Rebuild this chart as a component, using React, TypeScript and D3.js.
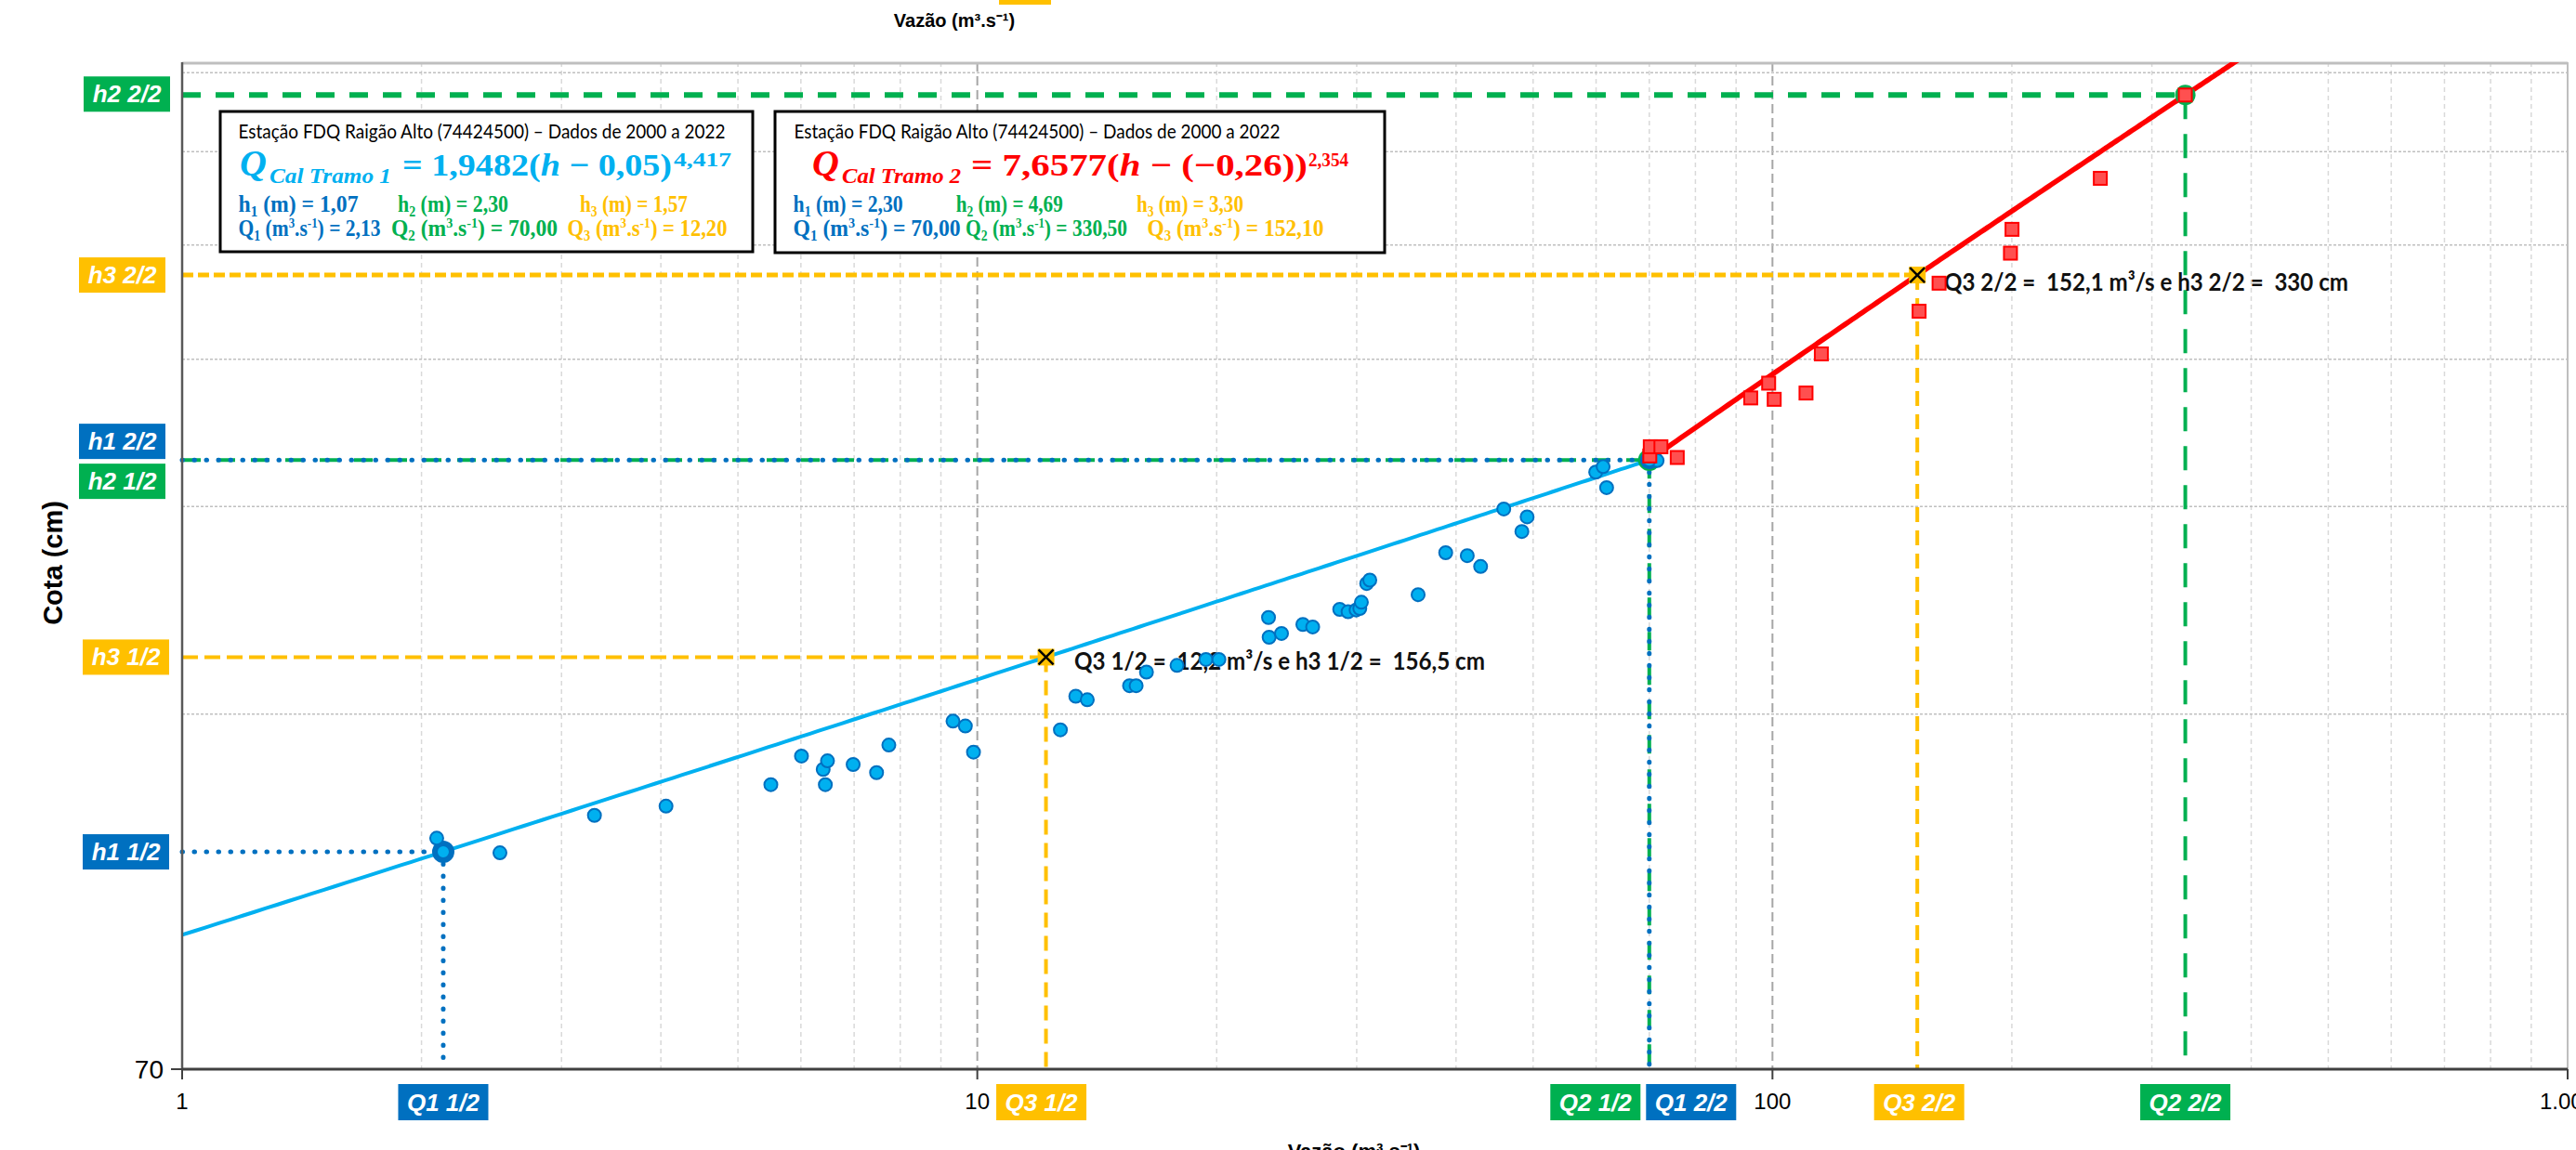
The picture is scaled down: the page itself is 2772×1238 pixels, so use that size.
import React from 'react';
import * as d3 from 'd3';

const W = 2772;
const H = 1238;

// Observed gaugings - Tramo 1 (blue circles): discharge (m3/s) and stage (cm)
const blueQ = [2.09, 2.13, 2.51, 3.30, 4.06, 5.50, 6.01, 6.40, 6.48, 6.44, 6.98, 7.47, 7.74, 9.32, 9.66, 9.89, 12.72, 13.30, 13.75, 15.54, 15.84, 16.32, 17.83, 19.39, 20.13, 23.28, 24.13, 23.24, 25.67, 26.41, 28.56, 29.26, 29.95, 30.27, 30.41, 30.88, 31.16, 35.84, 38.82, 41.32, 42.95, 45.93, 49.14, 48.40, 59.94, 61.24, 61.86, 71.6, 70.0];
const blueH = [109.9, 107.0, 106.8, 114.9, 117.0, 122.0, 129.0, 125.7, 127.8, 122.0, 126.9, 124.9, 131.8, 138.1, 136.8, 130.0, 135.8, 145.0, 144.0, 148.0, 148.0, 152.0, 154.0, 155.8, 155.8, 162.7, 163.9, 169.1, 166.8, 166.0, 171.8, 171.0, 171.6, 172.1, 174.2, 180.7, 181.9, 176.8, 191.9, 190.8, 186.8, 209.0, 205.8, 200.0, 224.6, 227.0, 217.9, 229.7, 230.0];

// Observed gaugings - Tramo 2 (red squares)
const redQ = [70.1, 70.2, 72.4, 75.9, 93.9, 98.9, 100.5, 110.2, 115.2, 152.9, 162.0, 199.2, 200.1, 258.4, 330.5];
const redH = [231.8, 236.0, 236.0, 231.1, 259.6, 267.2, 258.9, 262.1, 282.9, 307.5, 324.8, 344.4, 360.8, 398.6, 469.0];

// Axes
const xTicks = [1, 10, 100, 1000];
const xTickLabels = ['1', '10', '100', '1.000'];
const yTicks = [70];
const yGridValues = [140, 210, 280, 350, 420, 490];

// Rating curve coefficients: Q = a (h - h0)^n, h in m
const tramo1 = { a: 1.9482, h0: 0.05, n: 4.417 };
const tramo2 = { a: 7.6577, h0: -0.26, n: 2.354 };

// Reference points (cm / m3.s-1)
const t1H = [107, 230, 156.5];
const t1Q = [2.13, 70.0, 12.2];
const t2H = [230, 469, 330];
const t2Q = [70.0, 330.5, 152.1];

const BLUE = '#0070C0';
const GREEN = '#00B050';
const YELLOW = '#FFC000';
const LBLUE = '#00B0F0';
const RED = '#FF0000';

const L = 196, R = 2763, T = 67, B = 1151;

export default function App() {
  const x = d3.scaleLog().domain([1, 1000]).range([L, R]);
  const y = d3.scaleLog().domain([70, 500]).range([B, T]);

  const curve = (c: { a: number; h0: number; n: number }, h1: number, h2: number) => {
    const N = 200;
    const pts = d3.range(N + 1).map((i) => {
      const h = h1 + ((h2 - h1) * i) / N;
      const q = c.a * Math.pow(h - c.h0, c.n);
      return [x(q), y(h * 100)] as [number, number];
    });
    return d3.line()(pts) || '';
  };
  const hStart1 = tramo1.h0 + Math.pow(1 / tramo1.a, 1 / tramo1.n);
  const path1 = curve(tramo1, hStart1, 2.30);
  const path2 = curve(tramo2, 2.30, 5.2);

  const minorX: number[] = [];
  [1, 10, 100].forEach((d) => {
    for (let k = 2; k <= 9; k++) minorX.push(k * d);
  });

  const sans = 'Liberation Sans, Arial, sans-serif';
  const serif = 'Liberation Serif, Times New Roman, serif';
  const calibri = 'Lato, Open Sans, sans-serif';

  const hLine = (h: number, q: number, stroke: string, w: number, dash: string, cap: 'round' | 'butt' = 'butt') => (
    <line x1={L} x2={x(q)} y1={y(h)} y2={y(h)} stroke={stroke} strokeWidth={w} strokeDasharray={dash} strokeLinecap={cap} />
  );
  const vLine = (h: number, q: number, stroke: string, w: number, dash: string, cap: 'round' | 'butt' = 'butt') => (
    <line x1={x(q)} x2={x(q)} y1={y(h)} y2={B} stroke={stroke} strokeWidth={w} strokeDasharray={dash} strokeLinecap={cap} />
  );

  const leftLabels = [
    { t: 'h2 2/2', c: GREEN, cy: y(t2H[1]) - 1, x0: 90 },
    { t: 'h3 2/2', c: YELLOW, cy: y(t2H[2]), x0: 85 },
    { t: 'h1 2/2', c: BLUE, cy: y(t2H[0]) - 20, x0: 85 },
    { t: 'h2 1/2', c: GREEN, cy: y(t1H[1]) + 23, x0: 85 },
    { t: 'h3 1/2', c: YELLOW, cy: y(t1H[2]), x0: 89 },
    { t: 'h1 1/2', c: BLUE, cy: y(t1H[0]), x0: 89 },
  ];
  const bottomLabels = [
    { t: 'Q1 1/2', c: BLUE, cx: x(t1Q[0]) },
    { t: 'Q3 1/2', c: YELLOW, cx: x(t1Q[2]) - 5 },
    { t: 'Q2 1/2', c: GREEN, cx: x(t1Q[1]) - 58 },
    { t: 'Q1 2/2', c: BLUE, cx: x(t2Q[0]) + 45 },
    { t: 'Q3 2/2', c: YELLOW, cx: x(t2Q[2]) + 2 },
    { t: 'Q2 2/2', c: GREEN, cx: x(t2Q[1]) },
  ];

  const xMark = (q: number, h: number) => {
    const cx = x(q), cy = y(h), s = 8;
    return (
      <g>
        <rect x={cx - 9} y={cy - 9} width={18} height={18} fill={YELLOW} />
        <line x1={cx - s} y1={cy - s} x2={cx + s} y2={cy + s} stroke="#000" strokeWidth={2.5} />
        <line x1={cx - s} y1={cy + s} x2={cx + s} y2={cy - s} stroke="#000" strokeWidth={2.5} />
      </g>
    );
  };

  const rowText = (
    xx: number, yy: number, len: number, color: string, sym: string, sub: string, unit: 'h' | 'q', val: string
  ) => (
    <text x={xx} y={yy} fontFamily={serif} fontWeight="bold" fontSize={25} fill={color} textLength={len} lengthAdjust="spacingAndGlyphs">
      {sym}
      <tspan fontSize={16} dy={5}>{sub}</tspan>
      {unit === 'h' ? (
        <tspan dy={-5}>{` (m) = ${val}`}</tspan>
      ) : (
        <>
          <tspan dy={-5}>{' (m'}</tspan>
          <tspan fontSize={15} dy={-9}>3</tspan>
          <tspan dy={9}>.s</tspan>
          <tspan fontSize={15} dy={-9}>-1</tspan>
          <tspan dy={9}>{`) = ${val}`}</tspan>
        </>
      )}
    </text>
  );

  return (
    <svg width={W} height={H} style={{ position: 'absolute', left: 0, top: 0, background: '#fff' }}>
      <defs>
        <clipPath id="plot">
          <rect x={L} y={T} width={R - L} height={B - T} />
        </clipPath>
      </defs>
      <rect x={0} y={0} width={W} height={H} fill="#fff" />
      {/* cut label from above */}
      <rect x={1075} y={0} width={56} height={5} fill={YELLOW} />
      <text x={1027} y={29} textAnchor="middle" fontFamily={sans} fontWeight="bold" fontSize={20} fill="#000">
        Vazão (m³.s⁻¹)
      </text>

      {/* grid */}
      {minorX.map((v) => (
        <line key={'mx' + v} x1={x(v)} x2={x(v)} y1={T} y2={B} stroke="#D9D9D9" strokeWidth={1.5} strokeDasharray="5 4" />
      ))}
      {[10, 100].map((v) => (
        <line key={'Mx' + v} x1={x(v)} x2={x(v)} y1={T} y2={B} stroke="#A6A6A6" strokeWidth={2} strokeDasharray="10 5" />
      ))}
      {yGridValues.map((v) => (
        <line key={'gy' + v} x1={L} x2={R} y1={y(v)} y2={y(v)} stroke="#BFBFBF" strokeWidth={1.5} strokeDasharray="3 2" />
      ))}
      <line x1={L} x2={R} y1={T + 1} y2={T + 1} stroke="#BFBFBF" strokeWidth={3} />
      <line x1={R} x2={R} y1={T} y2={B} stroke="#BFBFBF" strokeWidth={2} />

      {/* info boxes */}
      <rect x={237} y={120} width={573} height={151} fill="#fff" stroke="#000" strokeWidth={3} />
      <rect x={834} y={120} width={656} height={152} fill="#fff" stroke="#000" strokeWidth={3} />
      <text x={256.5} y={149} fontFamily={calibri} fontSize={21} fill="#000" textLength={524} lengthAdjust="spacingAndGlyphs">
        Estação FDQ Raigão Alto (74424500) – Dados de 2000 a 2022
      </text>
      <text x={854.5} y={149} fontFamily={calibri} fontSize={21} fill="#000" textLength={523} lengthAdjust="spacingAndGlyphs">
        Estação FDQ Raigão Alto (74424500) – Dados de 2000 a 2022
      </text>
      {/* formula 1 */}
      <text x={258} y={189} fontFamily={serif} fontStyle="italic" fontWeight="bold" fontSize={40} fill={LBLUE}>Q</text>
      <text x={290} y={197} fontFamily={serif} fontStyle="italic" fontWeight="bold" fontSize={23} fill={LBLUE} textLength={131} lengthAdjust="spacingAndGlyphs">Cal Tramo 1</text>
      <text x={433} y={189} fontFamily={serif} fontWeight="bold" fontSize={34} fill={LBLUE} textLength={290} lengthAdjust="spacingAndGlyphs">
        = 1,9482(<tspan fontStyle="italic">h</tspan> − 0,05)
      </text>
      <text x={725} y={179} fontFamily={serif} fontWeight="bold" fontSize={21} fill={LBLUE} textLength={62} lengthAdjust="spacingAndGlyphs">4,417</text>
      {/* formula 2 */}
      <text x={874} y={189} fontFamily={serif} fontStyle="italic" fontWeight="bold" fontSize={40} fill={RED}>Q</text>
      <text x={906} y={197} fontFamily={serif} fontStyle="italic" fontWeight="bold" fontSize={23} fill={RED} textLength={128} lengthAdjust="spacingAndGlyphs">Cal Tramo 2</text>
      <text x={1045} y={189} fontFamily={serif} fontWeight="bold" fontSize={34} fill={RED} textLength={362} lengthAdjust="spacingAndGlyphs">
        = 7,6577(<tspan fontStyle="italic">h</tspan> − (−0,26))
      </text>
      <text x={1408} y={179} fontFamily={serif} fontWeight="bold" fontSize={21} fill={RED} textLength={43} lengthAdjust="spacingAndGlyphs">2,354</text>
      {/* rows box 1 */}
      {rowText(256.5, 228, 129, BLUE, 'h', '1', 'h', '1,07')}
      {rowText(428, 228, 119, GREEN, 'h', '2', 'h', '2,30')}
      {rowText(624, 228, 116, YELLOW, 'h', '3', 'h', '1,57')}
      {rowText(256.5, 254, 153, BLUE, 'Q', '1', 'q', '2,13')}
      {rowText(421, 254, 179, GREEN, 'Q', '2', 'q', '70,00')}
      {rowText(610.5, 254, 172, YELLOW, 'Q', '3', 'q', '12,20')}
      {/* rows box 2 */}
      {rowText(853.6, 228, 118, BLUE, 'h', '1', 'h', '2,30')}
      {rowText(1028.7, 228, 115, GREEN, 'h', '2', 'h', '4,69')}
      {rowText(1223, 228, 115, YELLOW, 'h', '3', 'h', '3,30')}
      {rowText(853.6, 254, 180, BLUE, 'Q', '1', 'q', '70,00')}
      {rowText(1039, 254, 174, GREEN, 'Q', '2', 'q', '330,50')}
      {rowText(1234.4, 254, 190, YELLOW, 'Q', '3', 'q', '152,10')}

      {/* reference lines */}
      {hLine(t2H[1], t2Q[1], GREEN, 6, '20 16')}
      {vLine(t2H[1], t2Q[1], GREEN, 4, '26 16')}
      {hLine(t2H[2], t2Q[2], YELLOW, 5, '12 5')}
      {vLine(t2H[2], t2Q[2], YELLOW, 4, '16 9')}
      {hLine(t1H[1], t1Q[1], GREEN, 4, '20 17')}
      {vLine(t1H[1], t1Q[1], GREEN, 4, '20 17')}
      {hLine(t2H[0], t2Q[0], BLUE, 5, '0.5 12.5', 'round')}
      {vLine(t2H[0], t2Q[0], BLUE, 5, '0.5 12.5', 'round')}
      {hLine(t1H[2], t1Q[2], YELLOW, 4, '17 7')}
      {vLine(t1H[2], t1Q[2], YELLOW, 4, '16 9')}
      {hLine(t1H[0], t1Q[0], BLUE, 5, '0.5 12.5', 'round')}
      {vLine(t1H[0], t1Q[0], BLUE, 5, '0.5 12.5', 'round')}

      {/* fitted curves */}
      <g clipPath="url(#plot)">
        <path d={path1} fill="none" stroke={LBLUE} strokeWidth={4} />
        <path d={path2} fill="none" stroke={RED} strokeWidth={5.5} />
      </g>

      {/* annotations */}
      <text x={1156} y={721} fontFamily={calibri} fontWeight="bold" fontSize={26} fill="#111" textLength={442} lengthAdjust="spacingAndGlyphs" style={{ whiteSpace: 'pre' }}>
        {'Q3 1/2 =  12,2 m³/s e h3 1/2 =  156,5 cm'}
      </text>
      <text x={2092} y={313} fontFamily={calibri} fontWeight="bold" fontSize={26} fill="#111" textLength={435} lengthAdjust="spacingAndGlyphs" style={{ whiteSpace: 'pre' }}>
        {'Q3 2/2 =  152,1 m³/s e h3 2/2 =  330 cm'}
      </text>

      {/* key point markers */}
      <circle cx={x(t1Q[0])} cy={y(t1H[0])} r={12} fill={BLUE} />
      <circle cx={x(t1Q[1])} cy={y(t1H[1])} r={12} fill={GREEN} />
      <circle cx={x(t2Q[0])} cy={y(t2H[0])} r={10} fill={BLUE} />
      <circle cx={x(t2Q[1])} cy={y(t2H[1])} r={11} fill={GREEN} />

      {/* observations */}
      {blueQ.map((q, i) => (
        <circle key={'b' + i} cx={x(q)} cy={y(blueH[i])} r={7} fill={LBLUE} stroke={BLUE} strokeWidth={2} />
      ))}
      {redQ.map((q, i) => (
        <rect key={'r' + i} x={x(q) - 7} y={y(redH[i]) - 7} width={14} height={14} fill="#FF5050" stroke={RED} strokeWidth={2} />
      ))}
      {xMark(t1Q[2], t1H[2])}
      {xMark(t2Q[2], t2H[2])}

      {/* axes */}
      <line x1={L} x2={L} y1={T} y2={B} stroke="#595959" strokeWidth={2.5} />
      <line x1={L} x2={R} y1={B} y2={B} stroke="#404040" strokeWidth={3} />
      {xTicks.map((v, i) => (
        <g key={'xt' + v}>
          <line x1={x(v)} x2={x(v)} y1={B} y2={B + 11} stroke="#404040" strokeWidth={2} />
          <text x={x(v)} y={1194} textAnchor="middle" fontFamily={sans} fontSize={24} fill="#000">{xTickLabels[i]}</text>
        </g>
      ))}
      {yTicks.map((v) => (
        <g key={'yt' + v}>
          <line x1={L - 12} x2={L} y1={y(v)} y2={y(v)} stroke="#404040" strokeWidth={2} />
          <text x={176} y={y(v) + 10} textAnchor="end" fontFamily={sans} fontSize={28} fill="#000">{v}</text>
        </g>
      ))}
      <text transform="translate(67,606) rotate(-90)" textAnchor="middle" fontFamily={sans} fontWeight="bold" fontSize={29} fill="#000">Cota (cm)</text>
      <text x={1457} y={1247} textAnchor="middle" fontFamily={sans} fontWeight="bold" fontSize={22} fill="#000">Vazão (m³.s⁻¹)</text>

      {/* label boxes */}
      {leftLabels.map((lb) => (
        <g key={lb.t}>
          <rect x={lb.x0} y={lb.cy - 19} width={93} height={38} fill={lb.c} />
          <text x={lb.x0 + 46.5} y={lb.cy + 9} textAnchor="middle" fontFamily={sans} fontStyle="italic" fontWeight="bold" fontSize={26} fill="#fff">{lb.t}</text>
        </g>
      ))}
      {bottomLabels.map((lb) => (
        <g key={lb.t}>
          <rect x={lb.cx - 48.5} y={1167} width={97} height={39} fill={lb.c} />
          <text x={lb.cx} y={1196} textAnchor="middle" fontFamily={sans} fontStyle="italic" fontWeight="bold" fontSize={26} fill="#fff">{lb.t}</text>
        </g>
      ))}
    </svg>
  );
}
